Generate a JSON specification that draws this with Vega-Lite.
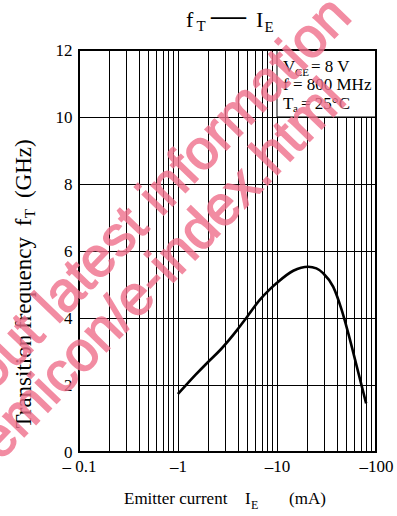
{
  "$schema": "https://vega.github.io/schema/vega-lite/v6.json",
  "width": 297,
  "height": 402,
  "autosize": {"type": "none"},
  "padding": {"left": 79, "top": 50, "right": 21, "bottom": 64},
  "background": "white",
  "config": {
    "view": {"stroke": null},
    "text": {"font": "Liberation Serif", "color": "#000", "align": "left", "baseline": "alphabetic"}
  },
  "layer": [
    {
      "data": {"values": [
        {"ie": 1.0, "ft": 1.73},
        {"ie": 1.5, "ft": 2.3},
        {"ie": 2.0, "ft": 2.68},
        {"ie": 2.7, "ft": 3.06},
        {"ie": 4.0, "ft": 3.66},
        {"ie": 5.0, "ft": 4.04},
        {"ie": 6.7, "ft": 4.54},
        {"ie": 8.5, "ft": 4.86},
        {"ie": 10, "ft": 5.05},
        {"ie": 14.6, "ft": 5.41},
        {"ie": 20.7, "ft": 5.53},
        {"ie": 25, "ft": 5.48},
        {"ie": 29.4, "ft": 5.33},
        {"ie": 37, "ft": 4.93},
        {"ie": 45, "ft": 4.24},
        {"ie": 52.5, "ft": 3.54},
        {"ie": 64, "ft": 2.55},
        {"ie": 79.5, "ft": 1.45}
      ]},
      "mark": {"type": "line", "color": "#000", "strokeWidth": 2.6, "interpolate": "monotone"},
      "encoding": {
        "x": {
          "field": "ie", "type": "quantitative",
          "scale": {"type": "log", "domain": [0.1, 100], "nice": false, "zero": false},
          "axis": {
            "title": null,
            "values": [0.1, 0.2, 0.3, 0.4, 0.5, 0.6, 0.7, 0.8, 0.9, 1, 2, 3, 4, 5, 6, 7, 8, 9, 10, 20, 30, 40, 50, 60, 70, 80, 90, 100],
            "labelExpr": "datum.value == 0.1 ? '– 0.1' : (datum.value == 1 ? '–1' : (datum.value == 10 ? '–10' : (datum.value == 100 ? '–100' : '')))",
            "grid": true, "gridColor": "#000", "gridWidth": 1, "gridOpacity": 1,
            "domain": false, "ticks": false,
            "labelFont": "Liberation Serif", "labelFontSize": 17, "labelColor": "#000",
            "labelPadding": 6, "labelOverlap": false, "labelFlush": false, "labelBound": false
          }
        },
        "y": {
          "field": "ft", "type": "quantitative",
          "scale": {"domain": [0, 12], "nice": false, "zero": false},
          "axis": {
            "title": null,
            "values": [0, 1, 2, 3, 4, 5, 6, 7, 8, 9, 10, 11, 12],
            "labelExpr": "datum.value % 2 == 0 ? datum.label : ''",
            "grid": true, "gridColor": "#000", "gridWidth": 1, "gridOpacity": 1,
            "domain": false, "ticks": false,
            "labelFont": "Liberation Serif", "labelFontSize": 17, "labelColor": "#000",
            "labelPadding": 7, "labelOverlap": false, "labelFlush": false, "labelBound": false
          }
        }
      }
    },
    {
      "data": {"values": [{}]},
      "mark": {"type": "rect", "fill": "#fff", "stroke": "#000", "strokeWidth": 1},
      "encoding": {
        "x": {"datum": 10},
        "x2": {"datum": 100},
        "y": {"datum": 10},
        "y2": {"datum": 12}
      }
    },
    {
      "data": {"values": [{}]},
      "mark": {"type": "rect", "filled": false, "color": "#000", "strokeWidth": 2},
      "encoding": {
        "x": {"datum": 0.1},
        "x2": {"datum": 100},
        "y": {"datum": 0},
        "y2": {"datum": 12}
      }
    },
    {
      "data": {"values": [{}]},
      "mark": {"type": "text", "text": "V", "fontSize": 17},
      "encoding": {"x": {"datum": 11.5}, "y": {"datum": 11.343}}
    },
    {
      "data": {"values": [{}]},
      "mark": {"type": "text", "text": "CE", "fontSize": 11, "dx": 12, "dy": 3.5},
      "encoding": {"x": {"datum": 11.5}, "y": {"datum": 11.343}}
    },
    {
      "data": {"values": [{}]},
      "mark": {"type": "text", "text": "= 8 V", "fontSize": 17, "dx": 28},
      "encoding": {"x": {"datum": 11.5}, "y": {"datum": 11.343}}
    },
    {
      "data": {"values": [{}]},
      "mark": {"type": "text", "text": "f = 800 MHz", "fontSize": 17},
      "encoding": {"x": {"datum": 11.5}, "y": {"datum": 10.806}}
    },
    {
      "data": {"values": [{}]},
      "mark": {"type": "text", "text": "T", "fontSize": 17},
      "encoding": {"x": {"datum": 11.5}, "y": {"datum": 10.239}}
    },
    {
      "data": {"values": [{}]},
      "mark": {"type": "text", "text": "a", "fontSize": 11, "dx": 10, "dy": 3.5},
      "encoding": {"x": {"datum": 11.5}, "y": {"datum": 10.239}}
    },
    {
      "data": {"values": [{}]},
      "mark": {"type": "text", "text": "= 25°C", "fontSize": 17, "dx": 18},
      "encoding": {"x": {"datum": 11.5}, "y": {"datum": 10.239}}
    },
    {
      "data": {"values": [{}]},
      "mark": {"type": "text", "text": "f", "fontSize": 22},
      "encoding": {"x": {"datum": 1.2045}, "y": {"datum": 12.687}}
    },
    {
      "data": {"values": [{}]},
      "mark": {"type": "text", "text": "T", "fontSize": 15, "dx": 10.5, "dy": 4},
      "encoding": {"x": {"datum": 1.2045}, "y": {"datum": 12.687}}
    },
    {
      "data": {"values": [{}]},
      "mark": {"type": "text", "text": "—", "fontSize": 35, "dx": 25},
      "encoding": {"x": {"datum": 1.2045}, "y": {"datum": 12.687}}
    },
    {
      "data": {"values": [{}]},
      "mark": {"type": "text", "text": "I", "fontSize": 22, "dx": 70},
      "encoding": {"x": {"datum": 1.2045}, "y": {"datum": 12.687}}
    },
    {
      "data": {"values": [{}]},
      "mark": {"type": "text", "text": "E", "fontSize": 15, "dx": 78.5, "dy": 5},
      "encoding": {"x": {"datum": 1.2045}, "y": {"datum": 12.687}}
    },
    {
      "data": {"values": [{}]},
      "mark": {"type": "text", "text": "Emitter current", "fontSize": 17},
      "encoding": {"x": {"datum": 0.2848}, "y": {"datum": -1.552}}
    },
    {
      "data": {"values": [{}]},
      "mark": {"type": "text", "text": "I", "fontSize": 17, "dx": 121},
      "encoding": {"x": {"datum": 0.2848}, "y": {"datum": -1.552}}
    },
    {
      "data": {"values": [{}]},
      "mark": {"type": "text", "text": "E", "fontSize": 12, "dx": 127, "dy": 5},
      "encoding": {"x": {"datum": 0.2848}, "y": {"datum": -1.552}}
    },
    {
      "data": {"values": [{}]},
      "mark": {"type": "text", "text": "(mA)", "fontSize": 17, "dx": 165},
      "encoding": {"x": {"datum": 0.2848}, "y": {"datum": -1.552}}
    },
    {
      "data": {"values": [{}]},
      "mark": {"type": "text", "text": "Transition frequency", "fontSize": 23, "angle": 270},
      "encoding": {"x": {"datum": 0.03275}, "y": {"datum": 0.7015}}
    },
    {
      "data": {"values": [{}]},
      "mark": {"type": "text", "text": "f", "fontSize": 23, "angle": 270, "dx": 202.3},
      "encoding": {"x": {"datum": 0.03275}, "y": {"datum": 0.7015}}
    },
    {
      "data": {"values": [{}]},
      "mark": {"type": "text", "text": "T", "fontSize": 15, "angle": 270, "dx": 210.2, "dy": 4},
      "encoding": {"x": {"datum": 0.03275}, "y": {"datum": 0.7015}}
    },
    {
      "data": {"values": [{}]},
      "mark": {"type": "text", "text": "(GHz)", "fontSize": 23, "angle": 270, "dx": 230.4},
      "encoding": {"x": {"datum": 0.03275}, "y": {"datum": 0.7015}}
    },
    {
      "data": {"values": [{}]},
      "mark": {"type": "text", "text": "about latest information", "font": "Liberation Sans", "fontSize": 56, "angle": 314, "color": "#f0708c", "stroke": "#f0708c", "strokeWidth": 1.5, "opacity": 0.8},
      "encoding": {"x": {"datum": 0.004873}, "y": {"datum": 0.4418}}
    },
    {
      "data": {"values": [{}]},
      "mark": {"type": "text", "text": "semicon/e-index.html", "font": "Liberation Sans", "fontSize": 56, "angle": 314, "color": "#f0708c", "stroke": "#f0708c", "strokeWidth": 1.5, "opacity": 0.8},
      "encoding": {"x": {"datum": 0.010117}, "y": {"datum": -0.8985}}
    }
  ]
}
